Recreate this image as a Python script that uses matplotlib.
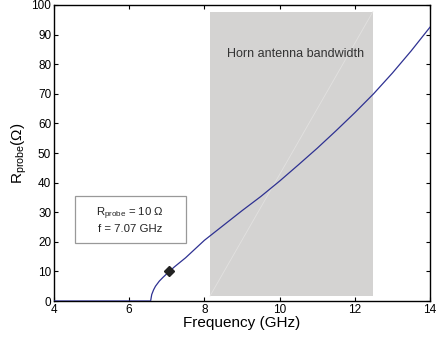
import matplotlib.pyplot as plt
from matplotlib.patches import Rectangle

plt.rcParams['font.family'] = ['Liberation Sans', 'DejaVu Sans']

# Data
freq = [4.0, 6.57, 6.6, 6.65, 6.7, 6.8, 6.9, 7.0, 7.07, 7.2, 7.5, 8.0, 8.5,
        9.0, 9.5, 10.0, 10.5, 11.0, 11.5, 12.0, 12.5, 13.0, 13.5, 14.0]
r_probe = [0.0, 0.0, 2.2, 3.8, 5.0, 6.7, 8.0, 9.2, 10.0, 11.5, 14.6, 20.5, 25.5,
           30.5, 35.3, 40.5, 46.0, 51.6, 57.5, 63.6, 70.0, 77.0, 84.5, 92.5]
marker_f = [7.07]
marker_r = [10]
band = [8.15, 12.48]

fig = plt.figure(figsize=(4.41, 3.4), dpi=100)
ax = fig.add_axes([0.1224, 0.1147, 0.8526, 0.8706])

# horn antenna bandwidth shading
ax.add_patch(Rectangle((band[0], 1.7), band[1] - band[0], 96.0,
                       facecolor='#d4d3d2', edgecolor='none', zorder=1))
ax.plot([band[0], band[1]], [1.7, 97.7], color='#e2e1e0', lw=0.6, zorder=1.5)
ax.text(10.43, 83.5, 'Horn antenna bandwidth', ha='center', va='center',
        fontsize=9, color='#333333', zorder=2)

ax.plot(freq, r_probe, color='#2e3192', lw=0.9, zorder=3)
ax.plot(marker_f, marker_r, marker='D', color='#222222', ms=5.5, zorder=4)

# annotation box
ax.add_patch(Rectangle((4.56, 19.6), 2.95, 15.9, facecolor='white',
                       edgecolor='#999999', lw=0.9, zorder=5))
ax.text(6.03, 27.6, '$\\mathregular{R_{probe}}$ = 10 Ω\nf = 7.07 GHz',
        ha='center', va='center', fontsize=8.2, color='#222222',
        linespacing=1.25, zorder=6)

ax.set_xlim(4, 14)
ax.set_ylim(0, 100)
ax.set_xticks(range(4, 15, 2))
ax.set_yticks(range(0, 101, 10))
ax.tick_params(direction='in', top=True, right=True, labelsize=8.5, length=3,
               pad=2)
for s in ax.spines.values():
    s.set_linewidth(1.0)

ax.set_xlabel('Frequency (GHz)', fontsize=11, labelpad=0)
ax.set_ylabel('$\\mathregular{R_{probe}}$(Ω)', fontsize=11, labelpad=2)

fig.savefig('out.png', dpi=100)
